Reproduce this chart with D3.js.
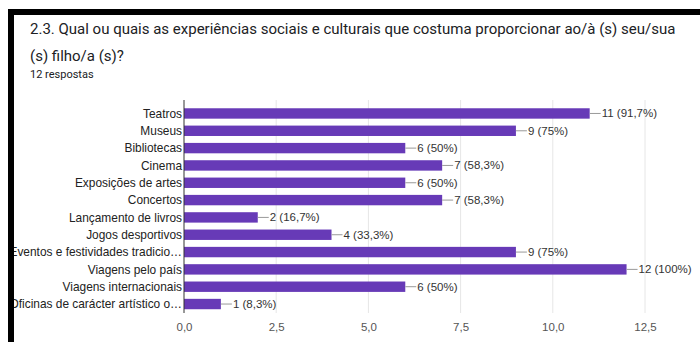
<!DOCTYPE html>
<meta charset="utf-8">
<style>
body { margin: 0; background: #fff; }
svg { display: block; }
.title { font-family: Roboto, "Noto Sans", sans-serif; fill: #202124; }
.cat { font-family: "Liberation Sans", Arial, sans-serif; font-size: 11.9px; fill: #222; }
.val { font-family: "Liberation Sans", Arial, sans-serif; font-size: 11.5px; fill: #333; }
.tick text { font-family: "Liberation Sans", Arial, sans-serif; font-size: 11.5px; fill: #555; }
</style>
<svg width="700" height="342"></svg>
<script src="https://d3js.org/d3.v7.min.js"></script>
<script>

var categories = ["Teatros", "Museus", "Bibliotecas", "Cinema", "Exposições de artes",
  "Concertos", "Lançamento de livros", "Jogos desportivos",
  "Eventos e festividades tradicio…", "Viagens pelo país",
  "Viagens internacionais", "Oficinas de carácter artístico o…"];
var counts = [11, 9, 6, 7, 6, 7, 2, 4, 9, 12, 6, 1];
var percents = ["91,7%", "75%", "50%", "58,3%", "50%", "58,3%", "16,7%", "33,3%", "75%", "100%", "50%", "8,3%"];
var tickValues = [0, 2.5, 5, 7.5, 10, 12.5];

var svg = d3.select("svg");

// title
svg.append("text").attr("class", "title")
    .attr("x", 30).attr("y", 34).attr("font-size", 15)
    .text("2.3. Qual ou quais as experiências sociais e culturais que costuma proporcionar ao/à (s) seu/sua");
svg.append("text").attr("class", "title")
    .attr("x", 30).attr("y", 61).attr("font-size", 15)
    .text("(s) filho/a (s)?");
svg.append("text").attr("class", "title")
    .attr("x", 30).attr("y", 78).attr("font-size", 11).attr("fill", "#333")
    .text("12 respostas");

var x = d3.scaleLinear().domain([0, 12.5]).range([184, 645]);
var y = d3.scaleBand().domain(categories).range([104.8, 312.7]).paddingInner(0.4).paddingOuter(0.2);

var plotTop = 100, plotBottom = 313;

// gridlines
svg.append("g").selectAll("line")
  .data(tickValues.slice(1))
  .enter().append("line")
    .attr("x1", function(d) { return x(d); })
    .attr("x2", function(d) { return x(d); })
    .attr("y1", plotTop).attr("y2", plotBottom)
    .attr("stroke", "#e6e6e6");

// bars
svg.append("g").selectAll("rect")
  .data(counts)
  .enter().append("rect")
    .attr("x", x(0))
    .attr("y", function(d, i) { return y(categories[i]); })
    .attr("width", function(d) { return x(d) - x(0); })
    .attr("height", y.bandwidth())
    .attr("fill", "#673ab7");

// leader lines + value labels
var lab = svg.append("g");
counts.forEach(function(d, i) {
  var cy = y(categories[i]) + y.bandwidth() / 2;
  lab.append("line")
      .attr("x1", x(d)).attr("x2", x(d) + 11)
      .attr("y1", cy).attr("y2", cy)
      .attr("stroke", "#999");
  lab.append("text").attr("class", "val")
      .attr("x", x(d) + 12).attr("y", cy).attr("dy", "0.35em")
      .text(d + " (" + percents[i] + ")");
});

// category labels
svg.append("g").selectAll("text")
  .data(categories)
  .enter().append("text")
    .attr("class", "cat")
    .attr("x", 182)
    .attr("y", function(d) { return y(d) + y.bandwidth() / 2; })
    .attr("dy", "0.35em")
    .attr("text-anchor", "end")
    .text(function(d) { return d; });

// baseline
svg.append("line")
    .attr("x1", x(0)).attr("x2", x(0))
    .attr("y1", plotTop).attr("y2", plotBottom)
    .attr("stroke", "#333");

// x axis labels
var ax = svg.append("g").attr("transform", "translate(0," + plotBottom + ")")
    .call(d3.axisBottom(x).tickValues(tickValues).tickSize(0).tickPadding(10)
      .tickFormat(function(d) { return d3.format(".1f")(d).replace(".", ","); }));
ax.select(".domain").remove();

// black frame of the screenshot
svg.append("rect").attr("x", 8).attr("y", 9).attr("width", 692).attr("height", 6).attr("fill", "#000");
svg.append("rect").attr("x", 0).attr("y", 15).attr("width", 8).attr("height", 327).attr("fill", "#fff");
svg.append("rect").attr("x", 8).attr("y", 9).attr("width", 6).attr("height", 333).attr("fill", "#000");

</script>
